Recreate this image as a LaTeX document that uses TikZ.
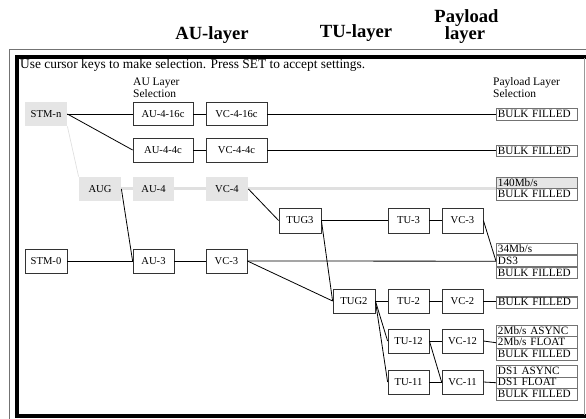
\documentclass[tikz,border=0pt]{standalone}
\usepackage{fontspec}
\setmainfont{Liberation Serif}
\begin{document}
\begin{tikzpicture}[x=1pt,y=-1pt,
  nbox/.style={draw=black!80,line width=0.8pt,fill=white,inner sep=0pt,
    minimum height=24,font=\fontsize{10.6}{12}\selectfont},
  gbox/.style={nbox,draw=none,fill=black!10},
  pcell/.style={draw=black!55,line width=0.9pt,fill=white,anchor=north west,
    inner xsep=1.5pt,inner ysep=0pt,text width=78,align=left,
    minimum height=11.5,text height=7.8pt,text depth=1.8pt,
    font=\fontsize{11.2}{11.2}\selectfont},
  conn/.style={draw=black,line width=0.8pt},
  head/.style={anchor=base,font=\fontsize{18.6}{19}\selectfont\bfseries,inner sep=0pt},
  lbl/.style={anchor=base west,inner sep=0pt,font=\fontsize{11.5}{12}\selectfont}]
\useasboundingbox (0,0) rectangle (586,419);
% frames
\draw[black!55,line width=0.7pt] (9.5,419) -- (9.5,49.5) -- (586,49.5);
\draw[black,line width=3.5pt] (590,57) -- (16.8,57) -- (16.8,416) -- (590,416);
\draw[black!40,line width=0.6pt] (584.5,58) -- (584.5,415);
% headings
\node[head] (hau) at (212,40) {AU-layer};
\node[head] (htu) at (356,37.5) {TU-layer};
\node[head] (hpl1) at (466.5,23) {Payload};
\node[head] (hpl2) at (465,40) {layer};
% instructions
\node[anchor=base west,inner sep=0pt,font=\fontsize{13.4}{14}\selectfont] (instr) at (20,69) {Use cursor keys to make selection. Press SET to accept settings.};
\node[lbl] (aulbl1) at (133,85.5) {AU Layer};
\node[lbl] (aulbl2) at (133,97.5) {Selection};
\node[lbl] (pllbl1) at (493,85.5) {Payload Layer};
\node[lbl] (pllbl2) at (493,97.5) {Selection};
% nodes
\node[gbox,minimum width=42] (STMn) at (46,114) {STM-n};
\node[nbox,minimum width=60,minimum height=23] (AU416) at (163,114) {AU-4-16c};
\node[nbox,minimum width=61,minimum height=23] (VC416) at (236.5,114) {VC-4-16c};
\node[nbox,minimum width=60] (AU44) at (163,150) {AU-4-4c};
\node[nbox,minimum width=61] (VC44) at (236.5,150) {VC-4-4c};
\node[gbox,minimum width=42] (AUG) at (100,189) {AUG};
\node[gbox,minimum width=41] (AU4) at (153.5,189) {AU-4};
\node[gbox,minimum width=42] (VC4) at (227,189) {VC-4};
\node[nbox,minimum width=42,minimum height=25] (TUG3) at (300,220.5) {TUG3};
\node[nbox,minimum width=41,minimum height=25] (TU3) at (408.5,220.5) {TU-3};
\node[nbox,minimum width=41,minimum height=25] (VC3u) at (462.5,220.5) {VC-3};
\node[nbox,minimum width=42] (STM0) at (46,261) {STM-0};
\node[nbox,minimum width=41] (AU3) at (153.5,261) {AU-3};
\node[nbox,minimum width=41] (VC3) at (226.5,261) {VC-3};
\node[nbox,minimum width=42] (TUG2) at (354,301) {TUG2};
\node[nbox,minimum width=41] (TU2) at (408.5,301) {TU-2};
\node[nbox,minimum width=41] (VC2) at (462.5,301) {VC-2};
\node[nbox,minimum width=41] (TU12) at (408.5,341) {TU-12};
\node[nbox,minimum width=41] (VC12) at (462.5,341) {VC-12};
\node[nbox,minimum width=41] (TU11) at (408.5,382) {TU-11};
\node[nbox,minimum width=41] (VC11) at (462.5,382) {VC-11};
% payload cells
\node[pcell] (P1) at (496,108.5) {BULK FILLED};
\node[pcell] (P2) at (496,145) {BULK FILLED};
\node[pcell,fill=black!10] (P3a) at (496,177) {140Mb/s};
\node[pcell] (P3b) at (496,188.5) {BULK FILLED};
\node[pcell] (P4a) at (496,243) {34Mb/s};
\node[pcell] (P4b) at (496,255) {DS3};
\node[pcell] (P4c) at (496,267) {BULK FILLED};
\node[pcell,line width=1.4pt] (P5) at (496,296.5) {BULK FILLED};
\node[pcell] (P6a) at (496,325) {2Mb/s ASYNC};
\node[pcell] (P6b) at (496,336.5) {2Mb/s FLOAT};
\node[pcell] (P6c) at (496,348) {BULK FILLED};
\node[pcell] (P7a) at (496,365) {DS1 ASYNC};
\node[pcell] (P7b) at (496,376.5) {DS1 FLOAT};
\node[pcell] (P7c) at (496,388) {BULK FILLED};
% light connectors
\draw[black!12,line width=0.7pt] (STMn.south east) -- (AUG.north west);
\draw[black!12,line width=3pt] (AUG.east) -- (AU4.west);
\draw[black!12,line width=3pt] (AU4.east) -- (VC4.west);
\draw[black!12,line width=3pt] (VC4.east) -- (VC4.east -| P3a.west);
% black connectors
\draw[conn] (STMn.east) -- (AU416.west);
\draw[conn] (STMn.east) -- (AU44.west);
\draw[conn] (AU416) -- (VC416);
\draw[conn] (VC416.east) -- (VC416.east -| P1.west);
\draw[conn] (AU44) -- (VC44);
\draw[conn] (VC44.east) -- (VC44.east -| P2.west);
\draw[conn] (AUG.east) -- (AU3.west);
\draw[conn] (STM0) -- (AU3);
\draw[conn] (AU3) -- (VC3);
\draw[conn] (VC3.east) -- (P4b.west);
\draw[conn] (VC3.east) -- (TUG2.west);
\draw[conn] (VC4.east) -- (TUG3.west);
\draw[conn] (TUG3) -- (TU3);
\draw[conn] (TU3) -- (VC3u);
\draw[conn] (VC3u.east) -- (P4b.west);
\draw[conn] (TUG3.east) -- (TUG2.west);
\draw[conn] (TUG2) -- (TU2);
\draw[conn] (TU2) -- (VC2);
\draw[conn] (VC2.east) -- (VC2.east -| P5.west);
\draw[conn] (TUG2.east) -- (TU12.west);
\draw[conn] (TUG2.east) -- (TU11.west);
\draw[conn] (TU12) -- (VC12);
\draw[conn] (TU12.east) -- (VC11.west);
\draw[conn] (TU11) -- (VC11);
\draw[conn] (VC12.east) -- (P6b.west);
\draw[conn] (VC11.east) -- (P7b.west);
\end{tikzpicture}
\end{document}
